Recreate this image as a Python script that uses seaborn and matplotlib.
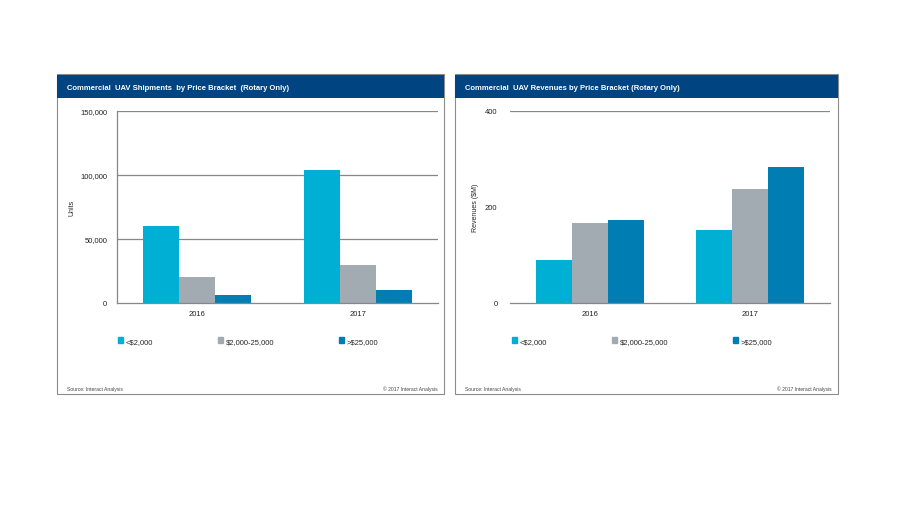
import pandas as pd
import matplotlib.pyplot as plt
import matplotlib.patches as mpatches
import seaborn as sns

# data
years = ["2016", "2017"]
brackets = ["<$2,000", "$2,000-25,000", ">$25,000"]
units_lt2k = [60000, 104000]
units_2k_25k = [20000, 30000]
units_gt25k = [6500, 10400]
rev_lt2k = [90, 152]
rev_2k_25k = [167, 238]
rev_gt25k = [173, 283]

colors = ["#00b0d4", "#a2abb1", "#007db3"]
header_blue = "#004482"
grid_grey = "#878787"

sns.set_style("white")
plt.rcParams["font.family"] = ["Liberation Sans", "DejaVu Sans"]


def long_frame(series_list):
    rows = []
    for name, vals in zip(brackets, series_list):
        for yr, v in zip(years, vals):
            rows.append({"year": yr, "bracket": name, "value": v})
    return pd.DataFrame(rows)


shipments = long_frame([units_lt2k, units_2k_25k, units_gt25k])
revenues = long_frame([rev_lt2k, rev_2k_25k, rev_gt25k])

fig = plt.figure(figsize=(9, 5.06), dpi=100)
W, H = 900, 506


def fx(px):
    return px / W


def fy(py):
    return 1 - py / H


def draw_panel(x0, x1, title, source_x, copy_x):
    # outer frame + title band, kept behind the axes
    fig.patches.append(mpatches.Rectangle((fx(x0), fy(395)), fx(x1 - x0), (395 - 75) / H,
                                          transform=fig.transFigure, facecolor="white",
                                          edgecolor="#8c8c8c", lw=0.8, zorder=-2))
    fig.patches.append(mpatches.Rectangle((fx(x0), fy(99)), fx(x1 - x0), (99 - 76) / H,
                                          transform=fig.transFigure, facecolor=header_blue,
                                          edgecolor="none", zorder=-1))
    fig.text(fx(x0 + 10), fy(88.5), title, color="white", fontsize=5.5,
             va="center", ha="left", fontweight="bold")
    fig.text(fx(source_x), fy(391), "Source: Interact Analysis", fontsize=3.6,
             color="#444444", va="baseline", ha="left")
    fig.text(fx(copy_x), fy(391), "\u00a9 2017 Interact Analysis", fontsize=3.6,
             color="#444444", va="baseline", ha="right")


def draw_bars(ax, df, ymax, yticks, ylabel, gridlines, labelpad):
    sns.barplot(data=df, x="year", y="value", hue="bracket", hue_order=brackets,
                palette=colors, saturation=1, width=0.67, gap=0, linewidth=0,
                ax=ax, legend=False)
    ax.set_facecolor("none")
    ax.set_xlim(-0.5, 1.5)
    ax.set_ylim(0, ymax)
    ax.set_yticks(yticks)
    ax.set_xlabel("")
    ax.set_ylabel(ylabel, fontsize=5, labelpad=labelpad)
    for sp in ["top", "right", "left"]:
        ax.spines[sp].set_visible(False)
    ax.spines["bottom"].set_color(grid_grey)
    ax.spines["bottom"].set_linewidth(0.9)
    for g in gridlines:
        ax.axhline(g, color=grid_grey, lw=0.9, zorder=0)
    ax.tick_params(axis="x", length=0, labelsize=5.5, pad=5, colors="#222222")
    ax.tick_params(axis="y", labelsize=5.5, colors="#222222")
    ax.set_xticks([0.5], minor=True)
    ax.tick_params(axis="x", which="minor", length=3, color=grid_grey, width=0.8)


# left panel: shipments
draw_panel(57, 444, "Commercial  UAV Shipments  by Price Bracket  (Rotary Only)", 67, 438)
ax1 = fig.add_axes([fx(117), fy(304), fx(321), 192 / H])
draw_bars(ax1, shipments, 150000, [0, 50000, 100000, 150000], "Units",
          [50000, 100000, 150000], 3)
ax1.set_yticklabels([f"{int(v):,}" for v in ax1.get_yticks()])
ax1.spines["left"].set_visible(True)
ax1.spines["left"].set_color(grid_grey)
ax1.spines["left"].set_linewidth(0.9)
ax1.tick_params(axis="y", length=4, color=grid_grey, width=0.8, pad=3)

# right panel: revenues
draw_panel(455, 838, "Commercial  UAV Revenues by Price Bracket (Rotary Only)", 465, 832)
ax2 = fig.add_axes([fx(510), fy(304), fx(320), 192 / H])
draw_bars(ax2, revenues, 400, [0, 200, 400], "Revenues ($M)", [400], 4)
ax2.tick_params(axis="y", length=0, pad=9)

# legends
handles = [mpatches.Patch(color=c, label=b) for c, b in zip(colors, brackets)]
for ax, lx in [(ax1, 118), (ax2, 512)]:
    fig.legend(handles=handles, loc="center left", bbox_to_anchor=(fx(lx), fy(342)),
               ncol=3, frameon=False, fontsize=5.5, handlelength=0.7, handleheight=0.7,
               handletextpad=0.3, columnspacing=8.5, borderaxespad=0, borderpad=0)

fig.savefig("out.png", dpi=100)
